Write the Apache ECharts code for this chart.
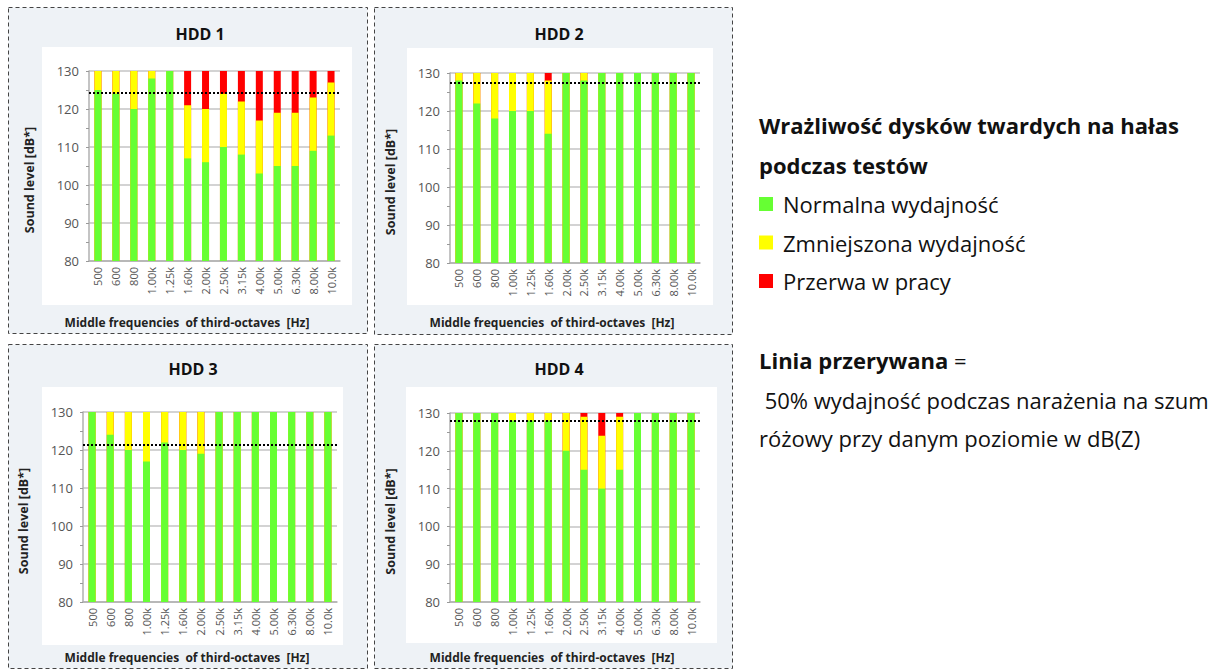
<!DOCTYPE html>
<html>
<head>
<meta charset="utf-8">
<script src="https://cdn.jsdelivr.net/npm/echarts@6/dist/echarts.min.js"></script>
<style>
html,body{margin:0;padding:0;background:#fff;}
#c{width:1230px;height:670px;}
</style>
</head>
<body>
<div id="c"></div>
<script>
// ---- data ----
const categories = ['500','600','800','1.00k','1.25k','1.60k','2.00k','2.50k','3.15k','4.00k','5.00k','6.30k','8.00k','10.0k'];
const yMin = 80, yMax = 130, yStep = 10;
const titles = ['HDD 1','HDD 2','HDD 3','HDD 4'];
// top of test range (bars reach this level)
const maxLevel = [130,130,130,130,130,130,130,130,130,130,130,130,130,130];
// upper edge of the green (normal) part
const hdd1Normal  = [125,124,120,128,130,107,106,110,108,103,105,105,109,113];
const hdd2Normal  = [128,122,118,120,120,114,130,128,130,130,130,130,130,130];
const hdd3Normal  = [130,124,120,117,122,120,119,130,130,130,130,130,130,130];
const hdd4Normal  = [130,130,130,128,128,128,120,115,110,115,130,130,130,130];
// upper edge of the yellow (reduced) part
const hdd1Reduced = [130,130,130,130,130,121,120,124,122,117,119,119,123,127];
const hdd2Reduced = [130,130,130,130,130,128,130,130,130,130,130,130,130,130];
const hdd3Reduced = [130,130,130,130,130,130,130,130,130,130,130,130,130,130];
const hdd4Reduced = [130,130,130,130,130,130,130,129,124,129,130,130,130,130];
// 50% performance level (dotted line)
const halfLevel = [124.3, 127.5, 121.5, 127.9];
const seriesNames = ['Normalna wydajność','Zmniejszona wydajność','Przerwa w pracy'];
const legendTitle = 'Wrażliwość dysków twardych na hałas\npodczas testów';
const noteHead = 'Linia przerywana';
const noteBody = ' 50% wydajność podczas narażenia na szum\nróżowy przy danym poziomie w dB(Z)';
const xName = 'Middle frequencies  of third-octaves  [Hz]';
const yName = 'Sound level [dB*]';

const normalSets = [hdd1Normal, hdd2Normal, hdd3Normal, hdd4Normal];
const reducedSets = [hdd1Reduced, hdd2Reduced, hdd3Reduced, hdd4Reduced];

// ---- layout ----
const FONT = '"Open Sans", "Noto Sans", sans-serif';
const colors = {normal:'#66ff33', reduced:'#ffff00', stop:'#ff0000'};
const grids = [
  {left:89, top:71, width:251, height:190},
  {left:450, top:73, width:250, height:190},
  {left:83, top:412, width:254, height:190},
  {left:450, top:413, width:250, height:189}
];
const panels = [
  {x:8, y:7, w:359, h:326},
  {x:374, y:7, w:358, h:327},
  {x:8, y:344, w:359, h:324},
  {x:374, y:344, w:358, h:324}
];
const whites = [
  {x:42, y:47, w:310, h:258},
  {x:407, y:48, w:306, h:257},
  {x:42, y:387, w:301, h:258},
  {x:406, y:387, w:311, h:256}
];
const titlePos = [{x:195, y:21},{x:554, y:21},{x:188, y:356},{x:554, y:356}];
const xNamePos = [{x:187, y:322},{x:552, y:322},{x:187, y:657},{x:552, y:657}];

const graphic = [];
panels.forEach(p => graphic.push({type:'rect', z:-10, shape:{x:p.x+0.5,y:p.y+0.5,width:p.w,height:p.h},
  style:{fill:'#eef2f6', stroke:'#444', lineWidth:1, lineDash:[4,3]}}));
whites.forEach(p => graphic.push({type:'rect', z:-9, shape:{x:p.x,y:p.y,width:p.w,height:p.h}, style:{fill:'#ffffff'}}));
xNamePos.forEach(p => graphic.push({type:'text', z:5, x:p.x, y:p.y,
  style:{text:xName, fontFamily:FONT, fontSize:12, fontWeight:'bold', fill:'#222', align:'center', verticalAlign:'middle'}}));
graphic.push({type:'text', x:759, y:105, style:{text:legendTitle, fontFamily:FONT, fontSize:22, fontWeight:'bold',
  fill:'#111', lineHeight:40}});
graphic.push({type:'text', x:759, y:342, style:{text:'{b|'+noteHead+'} =', fontFamily:FONT, fontSize:22, fill:'#111',
  lineHeight:36, rich:{b:{fontWeight:'bold', fontFamily:FONT, fontSize:22, fill:'#111', lineHeight:36}}}});
graphic.push({type:'text', x:759, y:381, style:{text:noteBody, fontFamily:FONT, fontSize:22, fill:'#111', lineHeight:38}});

const option = {
  animation:false,
  textStyle:{fontFamily:FONT},
  title: titles.map((t,i)=>({text:t, left:titlePos[i].x, top:titlePos[i].y, textAlign:'center',
    textStyle:{fontSize:16, fontWeight:'bold', color:'#111', fontFamily:FONT}})),
  legend:{
    data:seriesNames, orient:'vertical', left:754, top:188, itemWidth:14, itemHeight:14, itemGap:16.5,
    icon:'rect', selectedMode:false,
    textStyle:{fontSize:22, color:'#111', fontFamily:FONT, lineHeight:22, padding:[0,0,0,5]}
  },
  graphic: graphic,
  grid: grids.map(g=>Object.assign({containLabel:false}, g)),
  xAxis: grids.map((g,i)=>({
    type:'category', gridIndex:i, data:categories,
    axisLine:{lineStyle:{color:'#b0b0b0', width:1.5}},
    axisTick:{show:false},
    axisLabel:{rotate:90, interval:0, fontSize:11, color:'#555', margin:6, fontFamily:FONT}
  })),
  yAxis: grids.map((g,i)=>({
    type:'value', gridIndex:i, min:yMin, max:yMax, interval:yStep,
    name:yName, nameLocation:'middle', nameGap:53, nameRotate:90,
    nameTextStyle:{fontSize:12.5, fontWeight:'bold', color:'#222', fontFamily:FONT, padding:[0,28,0,0]},
    axisLine:{show:true, lineStyle:{color:'#b0b0b0', width:1.5}},
    axisTick:{show:true, length:3, lineStyle:{color:'#999'}},
    minorTick:{show:true, splitNumber:2, length:3, lineStyle:{color:'#999'}},
    splitLine:{show:true, lineStyle:{color:'#c4c4c4', width:1.5}},
    axisLabel:{fontSize:13, color:'#555', margin:10, fontFamily:FONT}
  })),
  series: []
};

for (let i=0;i<4;i++){
  option.series.push({
    name:seriesNames[2], type:'bar', xAxisIndex:i, yAxisIndex:i, data:maxLevel,
    barWidth:7, barGap:'-100%', itemStyle:{color:colors.stop}, z:2
  });
  option.series.push({
    name:seriesNames[1], type:'bar', xAxisIndex:i, yAxisIndex:i, data:reducedSets[i],
    barWidth:7, barGap:'-100%', itemStyle:{color:colors.reduced}, z:3
  });
  option.series.push({
    name:seriesNames[0], type:'bar', xAxisIndex:i, yAxisIndex:i, data:normalSets[i],
    barWidth:7, barGap:'-100%', itemStyle:{color:colors.normal}, z:4,
    markLine:{silent:true, symbol:'none', label:{show:false},
      lineStyle:{color:'#000', type:'dotted', width:2},
      data:[{yAxis:halfLevel[i]}]}
  });
}

const chart = echarts.init(document.getElementById('c'), null, {renderer:'svg'});
chart.setOption(option);
</script>
</body>
</html>
